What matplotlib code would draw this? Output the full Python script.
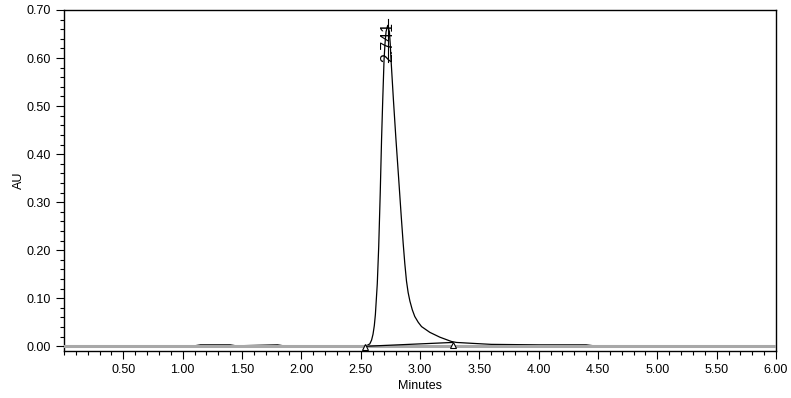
import matplotlib.pyplot as plt
from matplotlib.ticker import MultipleLocator, FormatStrFormatter

plt.rcParams['font.family'] = ['Liberation Sans', 'DejaVu Sans']

# trace (minutes, AU)
time = [0.00, 0.50, 1.10, 1.15, 1.40, 1.45, 1.80, 1.85, 2.20, 2.45, 2.530, 2.555,
        2.577, 2.592, 2.604, 2.615, 2.624, 2.640, 2.652, 2.665, 2.676, 2.686,
        2.697, 2.705, 2.714, 2.728, 2.742, 2.749, 2.756, 2.776, 2.797, 2.820,
        2.842, 2.858, 2.872, 2.886, 2.900, 2.915, 2.935, 2.956, 2.985, 3.013,
        3.083, 3.167, 3.265, 3.308, 3.450, 3.600, 3.800, 4.000, 4.400, 4.500,
        5.000, 6.000]
au = [0.000, 0.000, 0.001, 0.003, 0.003, 0.001, 0.003, 0.001, 0.000, 0.000, 0.000, 0.002,
      0.005, 0.013, 0.025, 0.043, 0.066, 0.130, 0.207, 0.320, 0.430, 0.513,
      0.596, 0.630, 0.655, 0.668, 0.655, 0.630, 0.596, 0.513, 0.432, 0.350,
      0.270, 0.215, 0.172, 0.136, 0.112, 0.094, 0.076, 0.062, 0.050, 0.041,
      0.029, 0.019, 0.010, 0.008, 0.006, 0.004, 0.0035, 0.003, 0.003, 0.000,
      0.000, 0.000]

peak_rt = 2.741
peak_label_y = 0.592
base_start = (2.540, 0.000)
base_end = (3.275, 0.008)

fig = plt.figure(figsize=(7.91, 3.98), dpi=100)
ax = fig.add_axes([64 / 791, 1 - 351 / 398, 712 / 791, 341 / 398])

ax.plot(time, au, color='black', lw=0.9, zorder=2)
ax.axhline(0, color='#a8a8a8', lw=2.2, zorder=3)

# integration baseline with open triangle marks
ax.plot([base_start[0], base_end[0]], [base_start[1], base_end[1]],
        color='black', lw=0.9, zorder=4)
ax.plot([base_start[0], base_end[0]], [base_start[1] - 0.001, base_end[1] - 0.006],
        ls='none', marker='^', ms=5, mfc='white', mec='black', mew=0.8, zorder=5)

# peak label
ax.plot([peak_rt - 0.012, peak_rt - 0.012], [peak_label_y, 0.682], color='black', lw=0.8)
ax.text(peak_rt - 0.012, peak_label_y, f"{peak_rt:.3f}", rotation=90, ha='center',
        va='bottom', fontsize=11.5)

ax.set_xlim(0, 6.0)
ax.set_ylim(-0.0098, 0.70)
ax.xaxis.set_major_locator(MultipleLocator(0.5))
ax.xaxis.set_minor_locator(MultipleLocator(0.1))
ax.yaxis.set_major_locator(MultipleLocator(0.1))
ax.yaxis.set_minor_locator(MultipleLocator(0.02))
ax.xaxis.set_major_formatter(FormatStrFormatter('%.2f'))
ax.yaxis.set_major_formatter(FormatStrFormatter('%.2f'))
ax.set_xticks([0.5 * i for i in range(1, 13)])
ax.tick_params(which='major', length=6, width=0.8, labelsize=9, direction='out')
ax.tick_params(which='minor', length=3, width=0.8, direction='out')

for s in ax.spines.values():
    s.set_linewidth(1.0)

ax.set_xlabel('Minutes', fontsize=9, labelpad=3)
ax.set_ylabel('AU', fontsize=9, labelpad=1)

fig.savefig('out.png', dpi=100)
